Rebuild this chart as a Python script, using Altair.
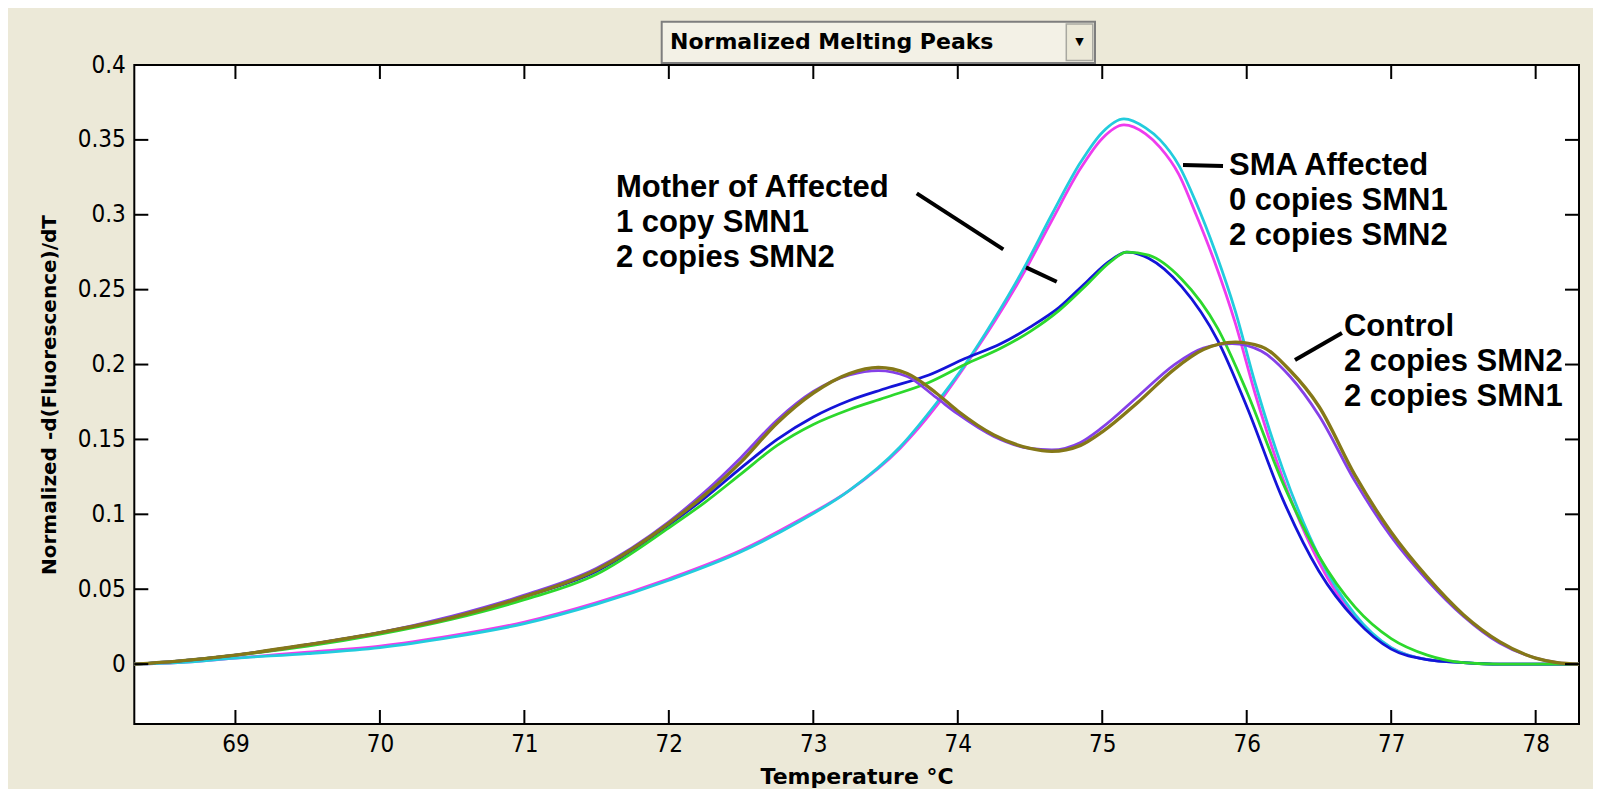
import altair as alt
import pandas as pd

# ---------------- data ----------------
x_ticks = [69, 70, 71, 72, 73, 74, 75, 76, 77, 78]
y_ticks = [0, 0.05, 0.1, 0.15, 0.2, 0.25, 0.3, 0.35, 0.4]

# Control (2 copies SMN2, 2 copies SMN1) - olive replicate
t_olive = [68.3, 68.6, 69.0, 69.5, 70.0, 70.5, 71.0, 71.5, 72.0, 72.25, 72.5, 72.75, 73.0,
           73.25, 73.45, 73.65, 73.85, 74.0, 74.25, 74.5, 74.65, 74.85, 75.0, 75.25, 75.5,
           75.7, 75.92, 76.1, 76.3, 76.5, 76.75, 77.0, 77.25, 77.5, 77.75, 78.0, 78.15, 78.3]
v_olive = [0, 0.002, 0.006, 0.013, 0.021, 0.031, 0.045, 0.063, 0.094, 0.113, 0.135, 0.161, 0.181,
           0.194, 0.198, 0.194, 0.181, 0.169, 0.153, 0.144, 0.142, 0.146, 0.155, 0.175, 0.197,
           0.210, 0.215, 0.212, 0.196, 0.172, 0.126, 0.088, 0.058, 0.033, 0.015, 0.004, 0.001, 0]

# Control - purple replicate
t_purple = [68.3, 68.6, 69.0, 69.5, 70.0, 70.5, 71.0, 71.5, 72.0, 72.25, 72.5, 72.75, 73.0,
            73.25, 73.45, 73.65, 73.85, 74.0, 74.25, 74.5, 74.65, 74.85, 75.0, 75.25, 75.5,
            75.7, 75.9, 76.1, 76.3, 76.5, 76.75, 77.0, 77.25, 77.5, 77.75, 78.0, 78.15, 78.3]
v_purple = [0, 0.002, 0.006, 0.013, 0.021, 0.032, 0.046, 0.064, 0.095, 0.115, 0.138, 0.163, 0.182,
            0.193, 0.196, 0.192, 0.178, 0.167, 0.152, 0.144, 0.143, 0.148, 0.158, 0.179, 0.200,
            0.211, 0.214, 0.209, 0.192, 0.166, 0.122, 0.085, 0.056, 0.032, 0.014, 0.004, 0.001, 0]

# Mother of Affected (1 copy SMN1, 2 copies SMN2) - blue replicate
t_blue = [68.3, 68.6, 69.0, 69.5, 70.0, 70.5, 71.0, 71.5, 72.0, 72.25, 72.5, 72.75, 73.0,
          73.25, 73.5, 73.8, 74.05, 74.3, 74.5, 74.7, 74.9, 75.05, 75.17, 75.32, 75.55,
          75.8, 76.0, 76.25, 76.5, 76.75, 77.0, 77.25, 77.5, 77.75, 78.3]
v_blue = [0, 0.002, 0.006, 0.013, 0.021, 0.031, 0.045, 0.062, 0.093, 0.111, 0.131, 0.150, 0.165,
          0.176, 0.184, 0.193, 0.204, 0.214, 0.225, 0.238, 0.256, 0.269, 0.275, 0.271, 0.252,
          0.216, 0.172, 0.110, 0.062, 0.030, 0.010, 0.003, 0.001, 0, 0]

# Mother of Affected - green replicate
t_green = [68.3, 68.6, 69.0, 69.5, 70.0, 70.5, 71.0, 71.5, 72.0, 72.25, 72.5, 72.75, 73.0,
           73.25, 73.5, 73.8, 74.05, 74.3, 74.5, 74.7, 74.9, 75.05, 75.17, 75.32, 75.55,
           75.8, 76.0, 76.25, 76.5, 76.75, 77.0, 77.25, 77.5, 77.75, 78.3]
v_green = [0, 0.002, 0.006, 0.012, 0.020, 0.030, 0.043, 0.060, 0.091, 0.108, 0.127, 0.146, 0.160,
           0.170, 0.178, 0.188, 0.200, 0.211, 0.222, 0.236, 0.254, 0.268, 0.275, 0.273, 0.257,
           0.224, 0.182, 0.121, 0.072, 0.038, 0.017, 0.006, 0.001, 0, 0]

# SMA Affected (0 copies SMN1, 2 copies SMN2) - magenta replicate
t_magenta = [68.3, 68.6, 69.0, 69.5, 70.0, 70.5, 71.0, 71.5, 72.0, 72.5, 72.9, 73.25, 73.6,
             73.85, 74.05, 74.25, 74.45, 74.65, 74.85, 75.0, 75.15, 75.3, 75.4, 75.53, 75.65,
             75.78, 75.92, 76.06, 76.25, 76.5, 76.75, 77.0, 77.25, 77.5, 77.75, 78.3]
v_magenta = [0, 0.001, 0.004, 0.008, 0.012, 0.019, 0.028, 0.041, 0.057, 0.076, 0.096, 0.116, 0.144,
             0.172, 0.199, 0.228, 0.260, 0.296, 0.331, 0.351, 0.360, 0.354, 0.345, 0.327, 0.300,
             0.268, 0.228, 0.180, 0.124, 0.068, 0.031, 0.011, 0.003, 0.001, 0, 0]

# SMA Affected - cyan replicate
t_cyan = [68.3, 68.6, 69.0, 69.5, 70.0, 70.5, 71.0, 71.5, 72.0, 72.5, 72.9, 73.25, 73.6,
          73.85, 74.05, 74.25, 74.45, 74.65, 74.85, 75.0, 75.15, 75.3, 75.4, 75.53, 75.65,
          75.78, 75.92, 76.06, 76.25, 76.5, 76.75, 77.0, 77.25, 77.5, 77.75, 78.3]
v_cyan = [0, 0.001, 0.004, 0.007, 0.011, 0.018, 0.027, 0.040, 0.056, 0.075, 0.095, 0.116, 0.145,
          0.174, 0.200, 0.230, 0.263, 0.300, 0.335, 0.355, 0.364, 0.358, 0.350, 0.333, 0.308,
          0.276, 0.236, 0.187, 0.130, 0.072, 0.033, 0.011, 0.003, 0.001, 0, 0]

series_names = ["magenta", "cyan", "blue", "green", "purple", "olive"]
series_colors = ["#EE3CEE", "#22CCDD", "#1414D8", "#2CD82C", "#8540E8", "#857818"]
series_data = [(t_magenta, v_magenta), (t_cyan, v_cyan), (t_blue, v_blue),
               (t_green, v_green), (t_purple, v_purple), (t_olive, v_olive)]

ann_labels = ["Mother of Affected\n1 copy SMN1\n2 copies SMN2",
              "SMA Affected\n0 copies SMN1\n2 copies SMN2",
              "Control\n2 copies SMN2\n2 copies SMN1"]
ann_t = [71.634, 75.877, 76.673]
ann_v = [0.3181, 0.3326, 0.2253]

ptr_t = [73.716, 74.472, 75.559, 76.334]
ptr_v = [0.3143, 0.2649, 0.3332, 0.2030]
ptr_t2 = [74.315, 74.685, 75.836, 76.659]
ptr_v2 = [0.2769, 0.2553, 0.3326, 0.2211]

# ---------------- chart ----------------
W, H = 1444.7, 659
TICK = 14
xs = alt.Scale(domain=[68.3, 78.3], nice=False, zero=False)
ys = alt.Scale(domain=[-0.04, 0.4], nice=False, zero=False)

TICK_FONT = "DejaVu Sans Condensed, Liberation Sans Narrow, Liberation Sans, sans-serif"

x_axis = alt.Axis(values=x_ticks, title="Temperature °C", tickSize=0, domain=False, grid=False,
                  labelFont=TICK_FONT, labelFontSize=24, labelColor="black",
                  labelPadding=8, titleFont="DejaVu Sans", titleFontWeight="bold",
                  titleFontSize=22, titleColor="black", titlePadding=10)
y_axis = alt.Axis(values=y_ticks, format="~g", title="Normalized -d(Fluorescence)/dT",
                  tickSize=0, domain=False, grid=False,
                  labelFont=TICK_FONT, labelFontSize=24, labelColor="black",
                  labelPadding=9, titleFont="DejaVu Sans", titleFontWeight="bold",
                  titleFontSize=20, titleColor="black", titlePadding=18)

x_enc = alt.X("T:Q", scale=xs, axis=x_axis)
y_enc = alt.Y("V:Q", scale=ys, axis=y_axis)

layers = []
for name, color, (ts, vs) in zip(series_names, series_colors, series_data):
    d = pd.DataFrame({"T": ts, "V": vs})
    sw = 3.4 if name == "olive" else 2.8
    layers.append(
        alt.Chart(d).mark_line(color=color, strokeWidth=sw, interpolate="monotone")
        .encode(x=x_enc, y=y_enc)
    )

xt = pd.DataFrame({"T": x_ticks})
yt = pd.DataFrame({"V": y_ticks})
tick_style = dict(color="black", strokeWidth=2)
layers.append(alt.Chart(xt).mark_rule(**tick_style).encode(
    x=x_enc, y=alt.value(H), y2=alt.value(H - TICK)))
layers.append(alt.Chart(xt).mark_rule(**tick_style).encode(
    x=x_enc, y=alt.value(0), y2=alt.value(TICK)))
layers.append(alt.Chart(yt).mark_rule(**tick_style).encode(
    y=y_enc, x=alt.value(0), x2=alt.value(TICK)))
layers.append(alt.Chart(yt).mark_rule(**tick_style).encode(
    y=y_enc, x=alt.value(W), x2=alt.value(W - TICK)))

# annotation pointers
ptr = pd.DataFrame({"T": ptr_t, "V": ptr_v, "T2": ptr_t2, "V2": ptr_v2})
layers.append(alt.Chart(ptr).mark_rule(color="black", strokeWidth=4).encode(
    x=x_enc, y=y_enc, x2="T2:Q", y2="V2:Q"))

# annotation text
ann = pd.DataFrame({"T": ann_t, "V": ann_v, "label": ann_labels})
layers.append(alt.Chart(ann).mark_text(
    align="left", baseline="middle", lineBreak="\n", lineHeight=35,
    font="Liberation Sans", fontWeight="bold", fontSize=31, color="black").encode(
    x=x_enc, y=y_enc, text="label:N"))

# drop-down box above the plot
one = pd.DataFrame({"a": [0]})
layers.append(alt.Chart(one).mark_rect(fill="#F3F1E6", stroke="#7E7E7E", strokeWidth=2).encode(
    x=alt.value(527.4), x2=alt.value(960.7), y=alt.value(-43.3), y2=alt.value(-2)))
layers.append(alt.Chart(one).mark_rect(fill="#ECE9D8", stroke="#A8A8A0", strokeWidth=1.5).encode(
    x=alt.value(932), x2=alt.value(958.5), y=alt.value(-41), y2=alt.value(-4.5)))
layers.append(alt.Chart(one).mark_text(text="▼", fontSize=11, color="black",
                                       font="DejaVu Sans").encode(
    x=alt.value(945.3), y=alt.value(-23)))
layers.append(alt.Chart(one).mark_text(
    text="Normalized Melting Peaks", align="left", baseline="middle",
    font="DejaVu Sans", fontWeight="bold", fontSize=22, color="black").encode(
    x=alt.value(535.7), y=alt.value(-23.3)))

chart = alt.layer(*layers).properties(
    width=W, height=H,
    background="#ECE9D8",
    autosize=alt.AutoSizeParams(type="none"),
    padding={"left": 126.3, "top": 57, "right": 14, "bottom": 65},
).configure_view(fill="white", stroke="black", strokeWidth=2)

chart.save("out.html", embed_options={"renderer": "svg", "actions": False})
